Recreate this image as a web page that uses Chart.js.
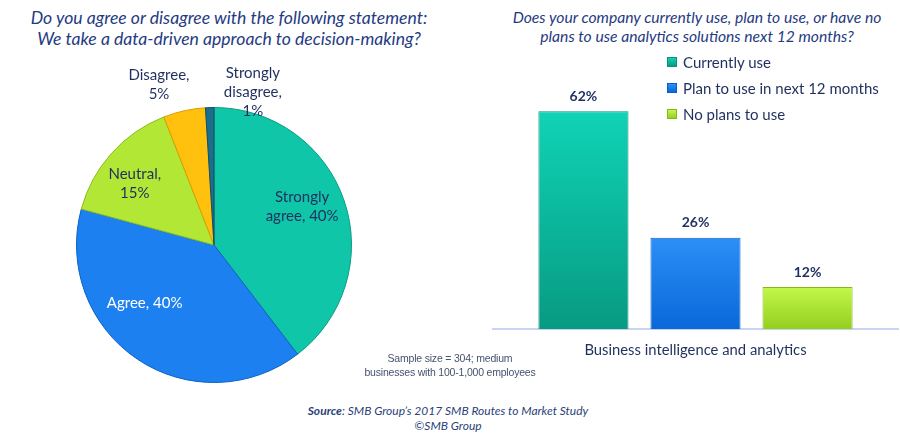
<!DOCTYPE html>
<html>
<head>
<meta charset="utf-8">
<script src="https://cdn.jsdelivr.net/npm/chart.js@4.4.1/dist/chart.umd.min.js"></script>
<style>
    html, body { margin: 0; padding: 0; }
    body {
        width: 900px;
        height: 440px;
        position: relative;
        overflow: hidden;
        font-family: Lato, "Open Sans", sans-serif;
        background: #fff;
    }
    .title {
        position: absolute;
        text-align: center;
        font-style: italic;
        color: #1f3b82;
    }
    #pieTitle { left: 0; width: 458px; top: 7px; font-size: 17.6px; line-height: 21px; }
    #barTitle { left: 497px; width: 400px; top: 8px; font-size: 15.7px; line-height: 19px; }
    #pieWrap { position: absolute; left: 40px; top: 60px; width: 350px; height: 340px; }
    #barWrap { position: absolute; left: 480px; top: 60px; width: 420px; height: 322px; }
    #legend { position: absolute; left: 667px; top: 49px; }
    .legend-item { height: 26px; display: flex; align-items: center; color: #1f2f5f; font-size: 15px; }
    .legend-box { width: 8px; height: 8px; margin-right: 6px; border: 1px solid; }
    .note {
        position: absolute; left: 350px; width: 200px; top: 351px;
        text-align: center; font-family: "Liberation Sans", Arial, sans-serif;
        font-size: 10.5px; line-height: 14px; color: #45536f; letter-spacing: -0.2px;
    }
    .source {
        position: absolute; left: 248px; width: 400px; top: 403px;
        text-align: center; font-style: italic; font-size: 12px; line-height: 15px; color: #2b3f78;
    }
</style>
</head>
<body>
<div class="title" id="pieTitle">Do you agree or disagree with the following statement:<br>We take a data-driven approach to decision-making?</div>
<div class="title" id="barTitle">Does your company currently use, plan to use, or have no plans to use analytics solutions next 12 months?</div>
<div id="pieWrap"><canvas id="pieChart"></canvas></div>
<div id="barWrap"><canvas id="barChart"></canvas></div>
<div id="legend"></div>
<div class="note">Sample size = 304; medium<br>businesses with 100-1,000 employees</div>
<div class="source"><b>Source</b>: SMB Group’s 2017 SMB Routes to Market Study<br>©SMB Group</div>

<script>
// pie: agreement with the statement
const pieLabels = ['Strongly agree', 'Agree', 'Neutral', 'Disagree', 'Strongly disagree'];
const pieValues = [40, 40, 15, 5, 1];
const pieColors = ['#10c6a8', '#1c80f0', '#b2e736', '#ffc10d', '#1b6e8c'];
const pieBorders = ['#0c9a82', '#0f62c4', '#8cbc1c', '#d99e00', '#0f4e66'];

// bar: analytics usage
const barCategories = ['Business intelligence and analytics'];
const barSeriesNames = ['Currently use', 'Plan to use in next 12 months', 'No plans to use'];
const currentlyUse = [62];
const planToUse = [26];
const noPlans = [12];
const barTop = ['#10d3b5', '#2b8ff7', '#c3f74b'];
const barBottom = ['#079a82', '#0a68d8', '#93cf1e'];
const barBorders = ['#0a8f78', '#0b5fc0', '#86b81a'];

// label placement around the pie (radius factor, angle shift in degrees, words per line)
const pieLabelPlace = [
    { r: 0.70, da: -5, wrap: [1, 2], color: '#1f2f5f' },
    { r: 0.66, da: 16, wrap: [2], color: '#ffffff' },
    { r: 0.73, da: -4, wrap: [1, 1], color: '#1f2f5f' },
    { r: 1.23, da: -6.5, wrap: [1, 1], color: '#1f2f5f' },
    { r: 1.15, da: 16, wrap: [1, 1, 1], color: '#1f2f5f' }
];

const pieLabelPlugin = {
    id: 'pieLabels',
    afterDatasetsDraw(chart) {
        const ctx = chart.ctx;
        const meta = chart.getDatasetMeta(0);
        ctx.save();
        ctx.font = '15px Lato';
        ctx.textAlign = 'center';
        ctx.textBaseline = 'middle';
        meta.data.forEach((arc, i) => {
            const p = pieLabelPlace[i];
            const mid = (arc.startAngle + arc.endAngle) / 2 + p.da * Math.PI / 180;
            const x = arc.x + Math.cos(mid) * arc.outerRadius * p.r;
            const y = arc.y + Math.sin(mid) * arc.outerRadius * p.r;
            const words = (pieLabels[i] + ', ' + pieValues[i] + '%').split(' ');
            const lines = [];
            let k = 0;
            p.wrap.forEach(n => { lines.push(words.slice(k, k + n).join(' ')); k += n; });
            ctx.fillStyle = p.color;
            lines.forEach((line, j) => {
                ctx.fillText(line, x, y + (j - (lines.length - 1) / 2) * 19);
            });
        });
        ctx.restore();
    }
};

new Chart(document.getElementById('pieChart'), {
    type: 'pie',
    data: {
        labels: pieLabels,
        datasets: [{
            data: pieValues,
            backgroundColor: pieColors,
            borderColor: pieBorders,
            borderWidth: 1
        }]
    },
    options: {
        responsive: true,
        maintainAspectRatio: false,
        animation: false,
        layout: { padding: { left: 36, right: 38, top: 47, bottom: 17 } },
        plugins: {
            legend: { display: false },
            tooltip: { enabled: false }
        }
    },
    plugins: [pieLabelPlugin]
});

function barGradient(i) {
    return function(context) {
        const chart = context.chart;
        const y = chart.scales && chart.scales.y;
        if (!y || context.raw === undefined) return barTop[i];
        const top = y.getPixelForValue(context.raw);
        const bottom = y.getPixelForValue(0);
        if (!isFinite(top) || !isFinite(bottom) || top === bottom) return barTop[i];
        const g = chart.ctx.createLinearGradient(0, top, 0, bottom);
        g.addColorStop(0, barTop[i]);
        g.addColorStop(1, barBottom[i]);
        return g;
    };
}

const barValuePlugin = {
    id: 'barValues',
    afterDatasetsDraw(chart) {
        const ctx = chart.ctx;
        ctx.save();
        ctx.font = 'bold 14px Lato';
        ctx.fillStyle = '#1f2f5f';
        ctx.textAlign = 'center';
        ctx.textBaseline = 'middle';
        chart.data.datasets.forEach((ds, i) => {
            chart.getDatasetMeta(i).data.forEach((bar, j) => {
                ctx.fillText(ds.data[j] + '%', bar.x, bar.y - 15);
            });
        });
        ctx.restore();
    }
};

const seriesValues = [currentlyUse, planToUse, noPlans];

new Chart(document.getElementById('barChart'), {
    type: 'bar',
    data: {
        labels: barCategories,
        datasets: seriesValues.map((vals, i) => ({
            label: barSeriesNames[i],
            data: vals,
            backgroundColor: barGradient(i),
            borderColor: barBorders[i],
            borderWidth: 1,
            categoryPercentage: 0.83,
            barPercentage: 0.804
        }))
    },
    options: {
        responsive: true,
        maintainAspectRatio: false,
        animation: false,
        layout: { padding: { left: 13, right: 2, top: 23, bottom: 11 } },
        scales: {
            x: {
                grid: { display: false, drawTicks: false },
                border: { display: true, color: '#c9d3f2', width: 2 },
                ticks: { color: '#1f2f5f', font: { family: 'Lato', size: 14.8 }, padding: 12 }
            },
            y: {
                display: false,
                min: 0,
                max: 70
            }
        },
        plugins: {
            legend: { display: false },
            tooltip: { enabled: false }
        }
    },
    plugins: [barValuePlugin]
});

const legendEl = document.getElementById('legend');
barSeriesNames.forEach((name, i) => {
    const item = document.createElement('div');
    item.className = 'legend-item';
    item.innerHTML = `<span class="legend-box" style="background:linear-gradient(${barTop[i]}, ${barBottom[i]});border-color:${barBorders[i]}"></span>${name}`;
    legendEl.appendChild(item);
});
</script>
</body>
</html>
